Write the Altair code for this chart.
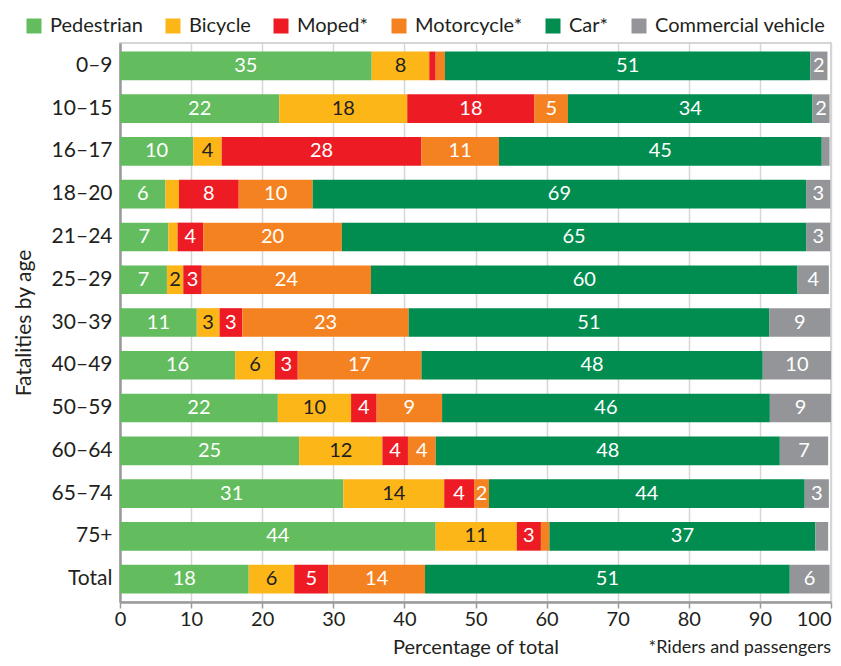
import altair as alt
import pandas as pd

ages = ["0–9", "10–15", "16–17", "18–20", "21–24", "25–29", "30–39",
        "40–49", "50–59", "60–64", "65–74", "75+", "Total"]
categories = ["Pedestrian", "Bicycle", "Moped*", "Motorcycle*", "Car*", "Commercial vehicle"]
colors = ["#63bc5e", "#fcb618", "#ed1c24", "#f58220", "#008d4f", "#939598"]

pedestrian = [35.4, 22.4, 10.3, 6.4, 6.8, 6.6, 10.8, 16.2, 22.2, 25.2, 31.4, 44.4, 18.1]
bicycle    = [8.1, 18.0, 4.0, 1.9, 1.3, 2.3, 3.2, 5.6, 10.3, 11.7, 14.2, 11.4, 6.4]
moped      = [0.9, 17.9, 28.1, 8.4, 3.6, 2.6, 3.2, 3.2, 3.6, 3.6, 4.2, 3.4, 4.8]
motorcycle = [1.3, 4.7, 10.9, 10.4, 19.5, 23.8, 23.4, 17.4, 9.2, 3.9, 2.1, 1.2, 13.6]
car        = [51.4, 34.4, 45.4, 69.4, 65.3, 60.0, 50.7, 48.0, 46.1, 48.4, 44.4, 37.4, 51.3]
commercial = [2.4, 2.4, 1.1, 3.4, 3.4, 4.4, 8.6, 9.6, 8.6, 6.8, 3.4, 1.8, 5.6]

series = [pedestrian, bicycle, moped, motorcycle, car, commercial]

rows = []
for i, age in enumerate(ages):
    start = 0.0
    for k, (cat, vals) in enumerate(zip(categories, series)):
        v = vals[i]
        rows.append(dict(age=age, category=cat, order=k, value=v,
                         start=start, end=start + v, mid=start + v / 2,
                         label=str(int(v + 0.5))))
        start += v
df = pd.DataFrame(rows)

FONT = "Lato"
TXT = "#231f20"

x_scale = alt.Scale(domain=[0, 100], nice=False, zero=True)
y_enc = alt.Y("age:N", sort=ages,
              scale=alt.Scale(paddingInner=0.33, paddingOuter=0.2),
              axis=alt.Axis(title="Fatalities by age", ticks=False, grid=False,
                            domainColor="#9a9a9a", domainWidth=2.5,
                            labelFontSize=21, labelColor=TXT, labelPadding=8,
                            titleFontSize=21, titleFontWeight="normal", titleColor=TXT,
                            titleX=-86, titleBaseline="bottom"))

base = alt.Chart(df)

bars = base.mark_bar(strokeWidth=0).encode(
    x=alt.X("start:Q", scale=x_scale,
            axis=alt.Axis(values=list(range(0, 101, 10)), title="Percentage of total",
                          grid=True, gridColor="#d6d6d6", gridWidth=1.5,
                          domainColor="#9a9a9a", domainWidth=2.5,
                          tickColor="#9a9a9a", tickSize=6, tickWidth=1.5,
                          labelFontSize=20, labelColor=TXT, labelPadding=1,
                          labelAlign={"condition": {"test": "datum.value == 100", "value": "right"},
                                      "value": "center"},
                          titleFontSize=20, titleFontWeight="normal", titleColor=TXT,
                          titleY=51.5, titleBaseline="alphabetic")),
    x2="end:Q",
    y=y_enc,
    color=alt.Color("category:N", scale=alt.Scale(domain=categories, range=colors),
                    legend=alt.Legend(title=None, orient="none", legendX=-96, legendY=-27,
                                      direction="horizontal", columns=6,
                                      symbolType="square", symbolSize=225, symbolStrokeWidth=0,
                                      labelFontSize=20, labelColor=TXT, labelOffset=6,
                                      labelLimit=400, columnPadding=20)),
    order=alt.Order("order:Q"),
)

labels = base.transform_filter("datum.value >= 2").mark_text(
    fontSize=20, font=FONT, baseline="middle", align="center").encode(
    x=alt.X("mid:Q", scale=x_scale),
    y=alt.Y("age:N", sort=ages),
    text="label:N",
    color=alt.condition("datum.category == 'Bicycle'", alt.value(TXT), alt.value("white")),
)

note = alt.Chart(pd.DataFrame({"t": ["*Riders and passengers"]})).mark_text(
    align="right", baseline="alphabetic", fontSize=18, font=FONT, color=TXT).encode(
    x=alt.value(711), y=alt.value(610), text="t:N")

chart = alt.layer(bars, labels, note).properties(
    width=711, height=559,
    autosize=alt.AutoSizeParams(type="none"),
    padding={"left": 112, "top": 35, "right": 2, "bottom": 56},
).configure(font=FONT).configure_view(stroke="#c8c8c8", strokeWidth=1.5)

chart.save("out.html", embed_options={"renderer": "svg", "actions": False})
